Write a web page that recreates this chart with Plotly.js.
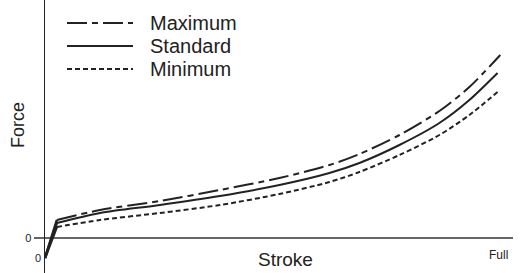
<!DOCTYPE html>
<html>
<head>
<meta charset="utf-8">
<script src="https://cdn.plot.ly/plotly-3.0.1.min.js"></script>
<style>html,body{margin:0;padding:0;background:#fff;}#chart{width:522px;height:273px;}</style>
</head>
<body>
<div id="chart"></div>
<script>
// Data (stroke in % of full stroke, force in arbitrary units)
const seriesNames = ["Maximum", "Standard", "Minimum"];
const strokeMax = [0, 2.6, 12.1, 25.3, 38.5, 51.6, 62.6, 69.2, 78.0, 86.8, 93.4, 100.2];
const forceMax  = [-20, 18, 28, 37, 48, 60, 73, 84, 103, 127, 151, 183];
const strokeStd = [0, 2.6, 12.1, 25.3, 38.5, 51.6, 62.6, 69.2, 78.0, 86.8, 93.4, 99.6];
const forceStd  = [-20, 15, 25, 33, 42, 53, 65, 75, 93, 115, 138, 165];
const strokeMin = [0, 2.6, 12.1, 25.3, 38.5, 51.6, 62.6, 69.2, 78.0, 86.8, 93.4, 99.6];
const forceMin  = [-20, 11, 18, 25, 33, 44, 56, 66, 83, 103, 123, 146];
const yTickVals = [0];
const yTickText = ["0"];
const xLabelStart = "0";
const xLabelEnd = "Full";
const xTitle = "Stroke";
const yTitle = "Force";

const W = 522, H = 273, L = 45, R = 9;
const PW = W - L - R;
const px = x => (x - L) / PW;      // pixel x -> paper
const py = y => 1 - y / H;         // pixel y -> paper

const FONT = "Liberation Sans, Arial, Helvetica, sans-serif";
const INK = "#222";
const dashes = ["20px,5px,6px,5px", "solid", "5px,3px"];

const xs = [strokeMax, strokeStd, strokeMin];
const ys = [forceMax, forceStd, forceMin];

const traces = [];
seriesNames.forEach((n, i) => {
  // initial steep ramp (straight) up to the knee
  traces.push({
    type: "scatter", mode: "lines", name: n,
    x: xs[i].slice(0, 2), y: ys[i].slice(0, 2),
    line: {color: INK, width: 2.5, dash: "solid"},
    showlegend: false, hoverinfo: "skip"
  });
  // smooth rising curve from the knee to full stroke
  traces.push({
    type: "scatter", mode: "lines", name: n,
    x: xs[i].slice(1), y: ys[i].slice(1),
    line: {color: INK, width: 2, dash: dashes[i], shape: "spline", smoothing: 0.8},
    showlegend: false, hoverinfo: "skip"
  });
});

const legendY = [23, 46, 69];
const shapes = seriesNames.map((n, i) => ({
  type: "line", xref: "paper", yref: "paper",
  x0: px(67), x1: px(133), y0: py(legendY[i]), y1: py(legendY[i]),
  line: {color: INK, width: 2, dash: dashes[i]}
}));
const annotations = seriesNames.map((n, i) => ({
  xref: "paper", yref: "paper", x: px(148), y: py(legendY[i]),
  xanchor: "left", yanchor: "middle", text: n, showarrow: false,
  font: {family: FONT, size: 20, color: INK}
}));
annotations.push(
  {xref: "paper", yref: "paper", x: px(285), y: py(259), xanchor: "center", yanchor: "middle",
   text: xTitle, showarrow: false, font: {family: FONT, size: 19, color: INK}},
  {xref: "paper", yref: "paper", x: px(18), y: py(125), xanchor: "center", yanchor: "middle",
   text: yTitle, textangle: -90, showarrow: false, font: {family: FONT, size: 18, color: INK}},
  {xref: "paper", yref: "paper", x: px(38), y: py(258), xanchor: "center", yanchor: "middle",
   text: xLabelStart, showarrow: false, font: {family: FONT, size: 11, color: INK}},
  {xref: "paper", yref: "paper", x: px(498), y: py(255), xanchor: "center", yanchor: "middle",
   text: xLabelEnd, showarrow: false, font: {family: FONT, size: 12, color: INK}}
);

const layout = {
  width: W, height: H,
  margin: {l: L, r: R, t: 0, b: 0, pad: 0},
  paper_bgcolor: "#fff", plot_bgcolor: "#fff",
  showlegend: false,
  xaxis: {range: [0, 103], showgrid: false, zeroline: false, showline: false,
          showticklabels: false, ticks: "", fixedrange: true},
  yaxis: {range: [-35, 238], showgrid: false, zeroline: true, zerolinecolor: "#666",
          zerolinewidth: 2, showline: true, linecolor: INK, linewidth: 1.5,
          tickmode: "array", tickvals: yTickVals, ticktext: yTickText,
          ticks: "outside", ticklen: 10, tickcolor: "#666", tickwidth: 2,
          tickfont: {family: FONT, size: 11, color: INK}, fixedrange: true},
  shapes: shapes,
  annotations: annotations
};

Plotly.newPlot("chart", traces, layout, {staticPlot: true, displayModeBar: false});
</script>
</body>
</html>
